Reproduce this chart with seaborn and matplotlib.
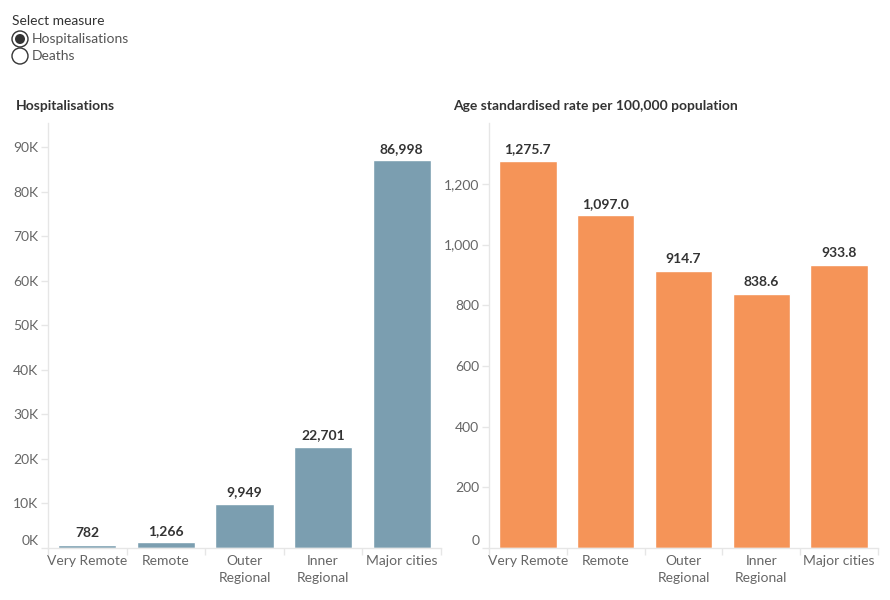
import seaborn as sns
import matplotlib.pyplot as plt
import matplotlib.transforms as mtransforms
from matplotlib.patches import Circle
import pandas as pd

# data
categories = ['Very Remote', 'Remote', 'Outer\nRegional', 'Inner\nRegional', 'Major cities']
hospitalisations = [782, 1266, 9949, 22701, 86998]
rates = [1275.7, 1097.0, 914.7, 838.6, 933.8]
hosp_ticks = [0, 10000, 20000, 30000, 40000, 50000, 60000, 70000, 80000, 90000]
rate_ticks = [0, 200, 400, 600, 800, 1000, 1200]

sns.set_theme(style='white')
plt.rcParams['font.family'] = ['Lato', 'DejaVu Sans']

df = pd.DataFrame({'Remoteness': categories, 'Hospitalisations': hospitalisations, 'Rate': rates})

fig = plt.figure(figsize=(8.9, 6), dpi=100)
ax1 = fig.add_axes([48 / 890, 1 - 548 / 600, (441 - 48) / 890, (548 - 123) / 600])
ax2 = fig.add_axes([489 / 890, 1 - 548 / 600, (878 - 489) / 890, (548 - 123) / 600])

blue = '#7b9eb0'
orange = '#f59458'
axis_col = '#e6e6e6'
tick_col = '#666666'
text_col = '#333333'

sns.barplot(data=df, x='Remoteness', y='Hospitalisations', color=blue, width=0.74,
            saturation=1, ax=ax1)
sns.barplot(data=df, x='Remoteness', y='Rate', color=orange, width=0.74,
            saturation=1, ax=ax2)

ax1.set_ylim(0, 95400)
ax2.set_ylim(0, 1401)

ax1.set_yticks(hosp_ticks)
ax1.set_yticklabels([f'{int(t / 1000)}K' for t in hosp_ticks])
ax2.set_yticks(rate_ticks)
ax2.set_yticklabels([f'{t:,}' for t in rate_ticks])

for ax, vals, fmt in [(ax1, hospitalisations, '{:,.0f}'), (ax2, rates, '{:,.1f}')]:
    ax.set_xlim(-0.5, len(categories) - 0.5)
    ax.set_xlabel('')
    ax.set_ylabel('')
    for s in ['top', 'right']:
        ax.spines[s].set_visible(False)
    for s in ['left', 'bottom']:
        ax.spines[s].set_color(axis_col)
        ax.spines[s].set_linewidth(1)
    ax.tick_params(axis='y', length=5, width=1, color=axis_col, labelcolor=tick_col,
                   labelsize=10, pad=2, left=True)
    ax.tick_params(axis='x', length=0, labelcolor=tick_col, labelsize=10, pad=5)
    # category separators below the axis
    ax.set_xticks([i - 0.5 for i in range(len(categories) + 1)], minor=True)
    ax.tick_params(axis='x', which='minor', length=5, width=1, color=axis_col, bottom=True)
    for lbl in ax.get_xticklabels():
        lbl.set_linespacing(1.5)
    ax.bar_label(ax.containers[0], labels=[fmt.format(v) for v in vals], padding=4,
                 fontsize=10, fontweight='bold', color=text_col)
    # zero label sits a little above the axis line
    zero = ax.get_yticklabels()[0]
    zero.set_transform(zero.get_transform() +
                       mtransforms.ScaledTranslation(0, 8 / 100, fig.dpi_scale_trans))

# panel titles
fig.text(16 / 890, 1 - 106 / 600, 'Hospitalisations', fontsize=10, fontweight='bold',
         color=text_col, va='center', ha='left')
fig.text(453 / 890, 1 - 106 / 600, 'Age standardised rate per 100,000 population',
         fontsize=10, fontweight='bold', color=text_col, va='center', ha='left')

# measure selector
fig.text(12 / 890, 1 - 21 / 600, 'Select measure', fontsize=10, color=text_col,
         va='center', ha='left')
fig.text(32 / 890, 1 - 39 / 600, 'Hospitalisations', fontsize=10, color='#555555',
         va='center', ha='left')
fig.text(32 / 890, 1 - 56 / 600, 'Deaths', fontsize=10, color='#555555',
         va='center', ha='left')
fig.patches.append(Circle((20, 600 - 39), 8, transform=None, fill=False,
                          edgecolor='#333333', linewidth=1))
fig.patches.append(Circle((20, 600 - 56), 8, transform=None, fill=False,
                          edgecolor='#333333', linewidth=1))
fig.patches.append(Circle((20, 600 - 39), 5, transform=None, facecolor='#333333',
                          edgecolor='none'))

fig.savefig('out.png', dpi=100)
